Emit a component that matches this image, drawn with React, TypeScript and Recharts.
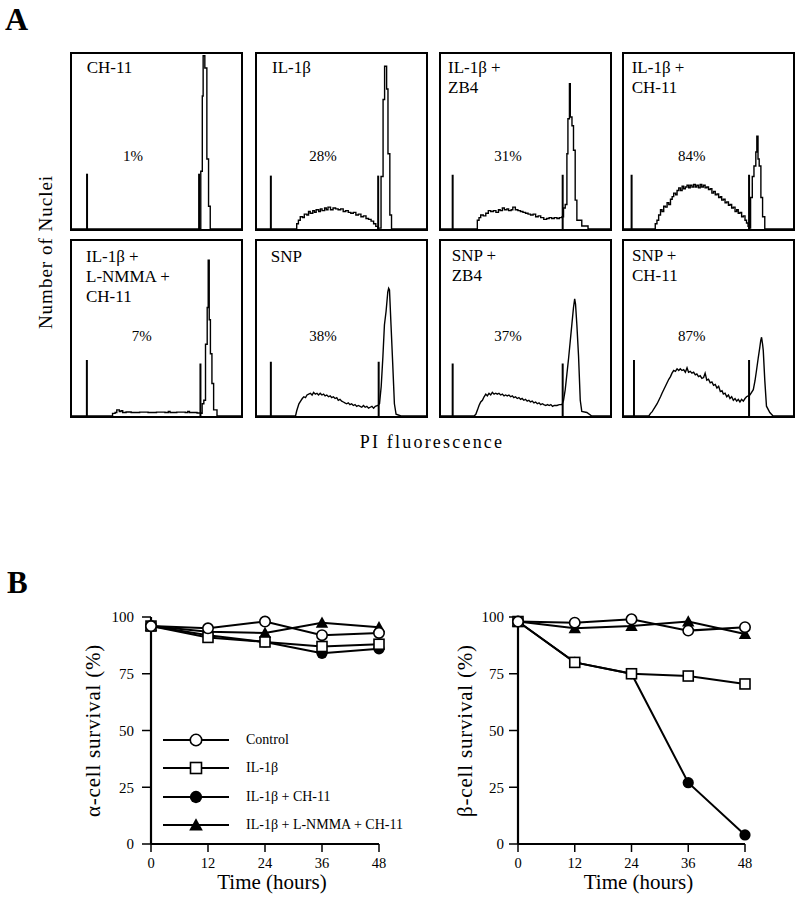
import React from 'react';
import { LineChart, Line, XAxis, YAxis, ReferenceLine, Legend } from 'recharts';

const FONT = 'Liberation Serif, Times New Roman, serif';

// ---------- Panel A: DNA histograms (x = PI channel %, y = count %) ----------
const panelTitles: string[][] = [
  ['CH-11'],
  ['IL-1β'],
  ['IL-1β +', 'ZB4'],
  ['IL-1β +', 'CH-11'],
  ['IL-1β +', 'L-NMMA +', 'CH-11'],
  ['SNP'],
  ['SNP +', 'ZB4'],
  ['SNP +', 'CH-11'],
];
const panelPercents = ['1%', '28%', '31%', '84%', '7%', '38%', '37%', '87%'];

const histCH11 = [[0,0],[75.8,0],[76.2,33],[77.1,76],[77.6,99],[78.6,92],[79.8,40],[80.8,13],[81.8,0],[100,0]];
const histIL1b = [[0,0],[22.7,0],[23.5,3],[24.5,5],[25.6,7],[27,6.5],[28,8.5],[29.5,8],[30.5,10],[31.5,9],[33,10.5],[34,9.5],[35,11],[36.5,10],[37.5,11.5],[38.5,10.5],[40,12],[41,11],[42,12.5],[43.5,11],[45,12],[46.5,11.5],[48,11],[49.5,11.5],[51,10],[52.5,10.5],[54,9.5],[55.5,9],[57,9.5],[58.5,8],[60,8.5],[61.5,7],[63,7.5],[64.5,6],[66,5.5],[67.5,4.5],[69,3],[70.3,1.5],[71.5,0.5],[73.4,30],[74.6,74],[75.5,93],[76.7,80],[77.5,43],[78.6,8],[79.6,0],[100,0]];
const histIL1bZB4 = [[0,0],[20.6,0],[21.5,5],[22.5,6.5],[23.5,8],[25,7.5],[26.5,9],[28,10.5],[29.4,10],[31,10.5],[32.5,9.5],[34,11],[35,10.5],[36.3,12],[37.5,11],[39,11.5],[40,10.5],[41.5,11],[42.5,12.5],[44,11],[45.5,10.5],[47,10],[48.5,9.5],[50,9],[51.5,8.5],[53,8],[54.5,8.5],[56,7],[57.5,7.5],[59,6.5],[60.8,5.5],[62.5,6],[64,6.5],[65.5,6],[67,6.5],[68.6,6],[70,6.5],[71.6,7],[72.5,12],[73.5,14],[74.5,43],[75.1,63],[76,83],[76.5,64],[77.5,59],[78.4,45],[79.4,16.5],[80.4,5],[83.3,1.7],[87,0],[100,0]];
const histIL1bCH11 = [[0,0],[17.6,0],[18.5,3],[19.5,5],[20.5,8],[21.6,11],[22.5,10],[23.5,13],[24.5,12.5],[25.5,15],[26.5,14],[27.5,17],[28.5,18.5],[29.4,20.5],[30.5,19.5],[31.4,22],[32.4,23.5],[33.4,22],[34.4,24.5],[35.3,23],[36.3,24],[37.3,25],[38.3,23.5],[39.2,25],[40.2,24],[41.2,25.5],[42.2,24],[43.1,25],[44.1,23.5],[45.1,25.5],[46,24],[47,25],[48,23.5],[49,24],[50,22.5],[51,23],[52,20.5],[53,21.5],[54,19.5],[55,20],[56,18],[57,18.5],[57.8,16.5],[58.8,17],[59.8,15],[60.8,15.5],[61.8,13.5],[62.7,14],[63.7,12],[64.7,12.5],[65.7,10],[66.7,11],[67.6,9],[68.6,9.5],[69.6,7],[70.6,7.5],[71.6,5],[72.5,3.4],[73.4,1.5],[74.1,0.5],[74.9,18],[75.9,30],[76.9,36],[78,44],[78.6,53],[79.3,40],[80,36],[81,18],[82,7],[83.3,0],[100,0]];
const histLNMMA = [[0,0],[23.4,0],[24,1.5],[25.5,2],[26.5,3.5],[28,2.5],[29,3],[30,2],[32,2.3],[35,2],[40,2.2],[45,2],[50,2.2],[55,2],[57,2.6],[58,2],[62,2.2],[67,2],[68.5,2.6],[69.5,2],[74,1.7],[76.5,1.5],[77,7],[78,9],[79,41],[80,62],[80.6,89],[81.2,55],[81.9,35.6],[82.8,18.6],[83.8,3.5],[85.8,0],[100,0]];
const histSNP = [[0,0],[22.8,0],[23.5,3],[24.8,7],[25.8,8.5],[26.8,10],[27.7,11],[28.7,10.5],[29.6,12],[30.6,12.5],[31.6,13],[32.6,12],[33.5,13.5],[34.5,12.5],[35.5,13],[36.4,12],[37.4,13],[38.4,12],[39.4,12.5],[40.3,11.5],[41.3,12],[42.3,11],[43.3,11.5],[44.2,10.5],[45.2,11],[46.2,10],[47.2,10.5],[48.1,9],[49.1,9.5],[50.1,8.5],[51.1,8],[52,7.5],[53,7],[54,7.5],[55,6.5],[56,7],[57,6],[58,6.5],[59,5.5],[60,6],[61,5.5],[62,5],[63,6],[64,5],[65,5.5],[66,4.5],[67,5],[68,5.5],[69,4.5],[70,5.5],[71.5,6],[72.5,7],[73.5,17],[74.5,34],[75.4,52],[76.4,60],[77.4,71],[77.9,73],[78.4,72],[79.3,52],[80.3,30],[81.3,7],[82.3,1],[85.2,0],[100,0]];
const histSNPZB4 = [[0,0],[19.6,0],[20.6,1],[21.6,3.5],[22.5,6],[23.5,8],[24.5,9],[25.5,11],[26.5,12.5],[27.4,11.5],[28.4,13],[29.4,12],[30.4,13.5],[31.4,12.5],[32.4,13],[33.3,12.5],[34.3,13],[35.3,12],[36.3,12.5],[37.3,11.5],[38.2,12],[39.2,11.5],[40.2,12],[41.2,11],[42.2,11.5],[43.1,10.5],[44.1,11],[45.1,10],[46.1,10.5],[47.1,9.5],[48,10],[49,9],[50,9.5],[51,8.5],[52,9],[52.9,8],[54,8.5],[55,7.5],[56,8],[57,7],[58,7.5],[59,6.5],[60,7],[60.8,6.5],[62,6],[63,6.5],[64,6],[65,6.5],[66,5.5],[67,6],[68.6,6],[70,6.5],[71.6,6.5],[72.5,9],[73.5,15],[74.5,24],[75.5,33],[76.5,43],[77.5,53],[78.4,62],[79.1,67],[79.6,64],[80.4,52],[81.4,34],[82.4,9],[83.3,2.6],[86.3,2],[89.2,0],[100,0]];
const histSNPCH11 = [[0,0],[14.7,0],[15.7,1.5],[16.7,2.5],[17.6,4],[18.6,5.5],[19.6,7],[20.6,9],[21.6,11],[22.5,13],[23.5,15],[24.5,17],[25.5,19],[26.5,21],[27.5,22.5],[28.4,24.5],[29.4,26],[30.4,25.5],[31.4,27],[32.4,26],[33.3,27],[34.3,26],[35.3,26.5],[36.3,25],[37.3,27.5],[38.2,25],[39.2,25.5],[40.2,24.5],[41.2,25],[42.2,23.5],[43.1,24],[44.1,22.5],[45.1,23],[46.1,21.5],[47.1,22],[48,24.5],[49,20.5],[50,21],[51,19],[52,19.5],[53,17.5],[54,18],[55,16],[56,17],[57,14],[58,14.5],[58.8,12.5],[59.8,13],[60.8,11],[61.8,12],[62.7,10],[63.7,11],[64.7,9],[65.7,10],[66.7,8.5],[67.6,9.5],[68.6,8],[69.6,9.5],[70.6,8.5],[71.6,10],[72.5,11],[73.5,11.5],[74.5,12],[75.5,13.5],[76.5,15],[77.5,20],[78.4,26],[79.4,33],[80.4,39.5],[80.9,43],[81.4,45],[82,41],[82.4,37.5],[83.3,20.5],[84.3,5.6],[86.3,2],[88.2,0],[100,0]];

const histograms = [histCH11, histIL1b, histIL1bZB4, histIL1bCH11, histLNMMA, histSNP, histSNPZB4, histSNPCH11];
const histStepped = [true, true, true, true, true, false, false, false];

// gate markers: [channel %, height %]
const gateMarkers = [
  [[8.9, 31.6], [75.2, 31.6]],
  [[8.2, 30.5], [71.7, 30.5]],
  [[6.9, 31], [72, 31]],
  [[4.5, 31], [74, 31]],
  [[8.8, 32], [76, 30]],
  [[8.2, 31], [72, 31]],
  [[6.9, 30], [72, 30]],
  [[5.9, 32], [74, 32]],
];

// ---------- Panel B: survival time course ----------
const hours = [0, 12, 24, 36, 48];
const survivalTicks = [0, 25, 50, 75, 100];
const alphaControl = [96, 95, 98, 92, 93];
const alphaIL1b = [96, 91, 89, 87, 88];
const alphaIL1bCH11 = [96, 92, 89, 84, 86];
const alphaLNMMA = [96, 93.5, 93, 97.5, 95.5];
const betaControl = [98, 97.5, 99, 94, 95.5];
const betaIL1b = [98, 80, 75, 74, 70.5];
const betaIL1bCH11 = [98, 80, 75, 27, 4];
const betaLNMMA = [98, 95, 96, 98, 92.5];

const seriesKeys = ['ch11', 'lnmma', 'il1b', 'control']; // draw order
const legendOrder = ['control', 'il1b', 'ch11', 'lnmma'];
const seriesNames: Record<string, string> = {
  control: 'Control',
  il1b: 'IL-1β',
  ch11: 'IL-1β + CH-11',
  lnmma: 'IL-1β + L-NMMA + CH-11',
};
const seriesShapes: Record<string, string> = {
  control: 'openCircle',
  il1b: 'openSquare',
  ch11: 'filledCircle',
  lnmma: 'filledTriangle',
};

const alphaRows = hours.map((h, i) => ({
  h, control: alphaControl[i], il1b: alphaIL1b[i], ch11: alphaIL1bCH11[i], lnmma: alphaLNMMA[i],
}));
const betaRows = hours.map((h, i) => ({
  h, control: betaControl[i], il1b: betaIL1b[i], ch11: betaIL1bCH11[i], lnmma: betaLNMMA[i],
}));

// ---------- layout ----------
const boxLefts = [70, 255, 439, 622];
const boxTops = [52, 239];
const BOX_W = 173;
const BOX_H = 179;
const titleOffsets = [[16.7, 21.3], [17, 21.3], [9, 21.3], [9.7, 21.3], [16, 22.7], [15.7, 22.7], [12.7, 22], [10, 22]];
const percentOffsets = [[63, 109], [68, 109], [69, 109], [69.7, 109], [71.7, 102], [68, 102], [69, 102], [69.7, 102]];

function drawMarker(shape: string, cx: number, cy: number, key?: string, scale = 1) {
  const s = scale;
  switch (shape) {
    case 'openCircle':
      return <circle key={key} cx={cx} cy={cy} r={5.2 * s} fill="#fff" stroke="#000" strokeWidth={1.6} />;
    case 'openSquare':
      return <rect key={key} x={cx - 5 * s} y={cy - 5 * s} width={10 * s} height={10 * s} fill="#fff" stroke="#000" strokeWidth={1.6} />;
    case 'filledCircle':
      return <circle key={key} cx={cx} cy={cy} r={5.6 * s} fill="#000" />;
    default:
      return (
        <polygon key={key} points={`${cx},${cy - 6.2 * s} ${cx + 6.2 * s},${cy + 5 * s} ${cx - 6.2 * s},${cy + 5 * s}`} fill="#000" />
      );
  }
}

function Histogram({ points, gates, stepped }: { points: number[][]; gates: number[][]; stepped: boolean }) {
  const data = points.map(([x, y]) => ({ x, y }));
  return (
    <LineChart width={BOX_W - 4} height={BOX_H - 4} data={data} margin={{ top: 0, right: 0, bottom: 0, left: 0 }}>
      <XAxis type="number" dataKey="x" domain={[0, 100]} hide />
      <YAxis type="number" domain={[0, 100]} hide allowDataOverflow />
      {gates.map(([gx, gh], i) => (
        <ReferenceLine key={i} segment={[{ x: gx, y: 0 }, { x: gx, y: gh }]} stroke="#000" strokeWidth={2} ifOverflow="visible" />
      ))}
      <Line
        type={stepped ? 'stepAfter' : 'linear'}
        dataKey="y"
        stroke="#000"
        strokeWidth={1.4}
        dot={false}
        isAnimationActive={false}
      />
    </LineChart>
  );
}

const renderLegend = (props: any) => {
  const items = [...(props.payload || [])].sort(
    (a: any, b: any) => legendOrder.indexOf(a.dataKey) - legendOrder.indexOf(b.dataKey)
  );
  return (
    <div style={{ fontFamily: FONT, fontSize: 14, color: '#000' }}>
      {items.map((it: any) => (
        <div key={it.dataKey} style={{ display: 'flex', alignItems: 'center', height: 28.3 }}>
          <svg width={66} height={20} style={{ overflow: 'visible' }}>
            <line x1={0} y1={10} x2={66} y2={10} stroke="#000" strokeWidth={2} />
            {drawMarker(seriesShapes[it.dataKey], 33, 10, undefined, 1.1)}
          </svg>
          <span style={{ marginLeft: 17, whiteSpace: 'nowrap' }}>{it.value}</span>
        </div>
      ))}
    </div>
  );
};

const textStyle = { fontFamily: FONT };

function SurvivalChart({ rows, yLabel, withLegend, yLabelOffset, rightMargin, yWidth, tickGap }: any) {
  return (
    <LineChart width={400} height={305} data={rows} margin={{ top: 22, right: rightMargin, bottom: 0, left: 0 }} style={{ fontFamily: FONT }}>
      <XAxis
        dataKey="h"
        type="number"
        domain={[0, 48]}
        ticks={hours}
        height={56}
        tickSize={8}
        tickMargin={6}
        axisLine={{ stroke: '#000', strokeWidth: 2.2 }}
        tickLine={{ stroke: '#000', strokeWidth: 1.5 }}
        tick={{ fill: '#000', fontSize: 14.5, fontFamily: FONT, style: textStyle }}
        label={{ value: 'Time (hours)', position: 'insideBottom', offset: 11, dx: 7, fontSize: 21, fill: '#000', fontFamily: FONT, style: textStyle }}
      />
      <YAxis
        type="number"
        domain={[0, 100]}
        ticks={survivalTicks}
        width={yWidth}
        tickSize={9}
        tickMargin={tickGap}
        axisLine={{ stroke: '#000', strokeWidth: 2.2 }}
        tickLine={{ stroke: '#000', strokeWidth: 1.5 }}
        tick={{ fill: '#000', fontSize: 15, fontFamily: FONT, style: textStyle }}
        label={{
          value: yLabel,
          angle: -90,
          position: 'insideLeft',
          offset: yLabelOffset,
          fontSize: 21,
          fill: '#000',
          fontFamily: FONT,
          style: { textAnchor: 'middle', letterSpacing: 0.8, fontFamily: FONT },
        }}
      />
      {withLegend && (
        <Legend
          layout="vertical"
          align="center"
          verticalAlign="middle"
          content={renderLegend}
          wrapperStyle={{ left: 163, top: 131, width: 240 }}
        />
      )}
      {seriesKeys.map((k) => (
        <Line
          key={k}
          dataKey={k}
          name={seriesNames[k]}
          type="linear"
          stroke="#000"
          strokeWidth={2}
          isAnimationActive={false}
          dot={(p: any) => drawMarker(seriesShapes[k], p.cx, p.cy, `${k}-${p.index}`)}
          activeDot={false}
        />
      ))}
    </LineChart>
  );
}

export default function App() {
  return (
    <div style={{ position: 'absolute', left: 0, top: 0, width: 796, height: 900, background: '#fff', overflow: 'hidden', fontFamily: FONT }}>
      {histograms.map((pts, i) => {
        const left = boxLefts[i % 4];
        const top = boxTops[Math.floor(i / 4)];
        return (
          <div
            key={i}
            style={{ position: 'absolute', left, top, width: BOX_W, height: BOX_H, border: '2px solid #000', boxSizing: 'border-box' }}
          >
            <Histogram points={pts} gates={gateMarkers[i]} stepped={histStepped[i]} />
          </div>
        );
      })}

      <div style={{ position: 'absolute', left: 0, top: 595, fontFamily: FONT }}>
        <SurvivalChart rows={alphaRows} yLabel="α-cell survival (%)" withLegend yLabelOffset={93} rightMargin={21} yWidth={151} tickGap={8} />
      </div>
      <div style={{ position: 'absolute', left: 368, top: 595, fontFamily: FONT }}>
        <SurvivalChart rows={betaRows} yLabel="β-cell survival (%)" withLegend={false} yLabelOffset={97} rightMargin={23} yWidth={150} tickGap={5} />
      </div>

      <svg width={796} height={900} style={{ position: 'absolute', left: 0, top: 0, pointerEvents: 'none', fontFamily: FONT }}>
        <text x={5} y={30} fontSize={32} fontWeight="bold" fill="#000">A</text>
        <text x={7} y={593} fontSize={31} fontWeight="bold" fill="#000">B</text>
        <text
          x={45}
          y={252}
          fontSize={19}
          letterSpacing={1}
          textAnchor="middle"
          dominantBaseline="central"
          transform="rotate(-90 45 252)"
          fill="#000"
        >
          Number of Nuclei
        </text>
        <text x={432} y={448} fontSize={18} letterSpacing={2.2} textAnchor="middle" fill="#000">
          PI fluorescence
        </text>
        {panelTitles.map((lines, i) => {
          const left = boxLefts[i % 4];
          const top = boxTops[Math.floor(i / 4)];
          const [dx, dy] = titleOffsets[i];
          return lines.map((ln, j) => (
            <text key={`t${i}-${j}`} x={left + dx} y={top + dy + j * 20} fontSize={17} fill="#000">
              {ln}
            </text>
          ));
        })}
        {panelPercents.map((p, i) => {
          const left = boxLefts[i % 4];
          const top = boxTops[Math.floor(i / 4)];
          const [dx, dy] = percentOffsets[i];
          return (
            <text key={`p${i}`} x={left + dx} y={top + dy} fontSize={15} textAnchor="middle" fill="#000">
              {p}
            </text>
          );
        })}
      </svg>
    </div>
  );
}
